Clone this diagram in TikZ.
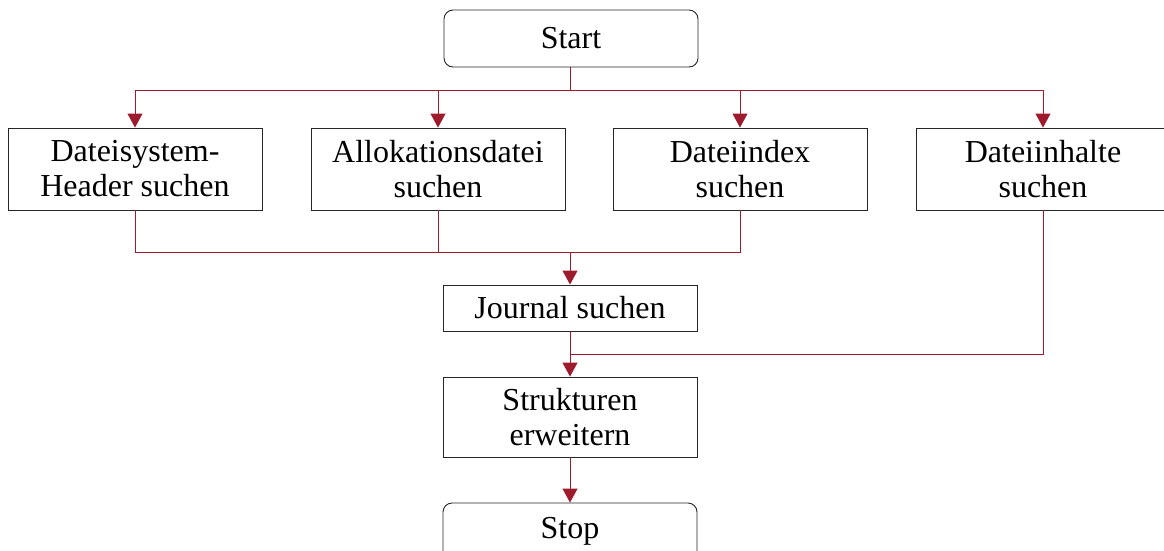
\documentclass[tikz,border=0pt]{standalone}
\usepackage{fontspec}
\setmainfont{Liberation Serif}
\usetikzlibrary{arrows.meta}
\definecolor{conred}{HTML}{9E1B2E}
\begin{document}
\begin{tikzpicture}[x=1pt,y=1pt,
  box/.style={draw=black!85, line width=0.9pt, fill=white, minimum width=254pt, inner sep=0pt,
    align=center, font=\fontsize{32}{35}\selectfont},
  rbox/.style={box, rounded corners=9pt},
  conn/.style={draw=conred, line width=1pt},
  arr/.style={conn, -{Triangle[width=15pt,length=14pt]}}]
\useasboundingbox (0,0) rectangle (1164,-550);
\node[rbox, minimum height=57pt] (start) at (571,-38.5) {Start};
\node[box, minimum height=82pt] (b1) at (135,-169) {Dateisystem-\\Header suchen};
\node[box, minimum height=82pt] (b2) at (438,-169) {Allokationsdatei\\suchen};
\node[box, minimum height=82pt] (b3) at (740,-169) {Dateiindex\\suchen};
\node[box, minimum height=82pt] (b4) at (1043,-169) {Dateiinhalte\\suchen};
\node[box, minimum height=46pt] (journal) at (570,-308) {Journal suchen};
\node[box, minimum height=80pt] (struk) at (570,-417) {Strukturen\\erweitern};
\node[rbox, minimum height=57pt] (stop) at (570,-531.5) {Stop};
\coordinate (split) at (570,-90);
\coordinate (m1) at (570,-252);
\coordinate (m2) at (570,-354);
\draw[conn] (start.south -| split) -- (split);
\draw[arr] (split) -| (b1.north);
\draw[arr] (split) -| (b2.north);
\draw[arr] (split) -| (b3.north);
\draw[arr] (split) -| (b4.north);
\draw[conn] (b1.south) |- (m1);
\draw[conn] (b2.south) |- (m1);
\draw[conn] (b3.south) |- (m1);
\draw[arr] (m1) -- (journal.north);
\draw[conn] (journal.south) -- (m2);
\draw[conn] (b4.south) |- (m2);
\draw[arr] (m2) -- (struk.north);
\draw[arr] (struk.south) -- (stop.north);
\end{tikzpicture}
\end{document}
